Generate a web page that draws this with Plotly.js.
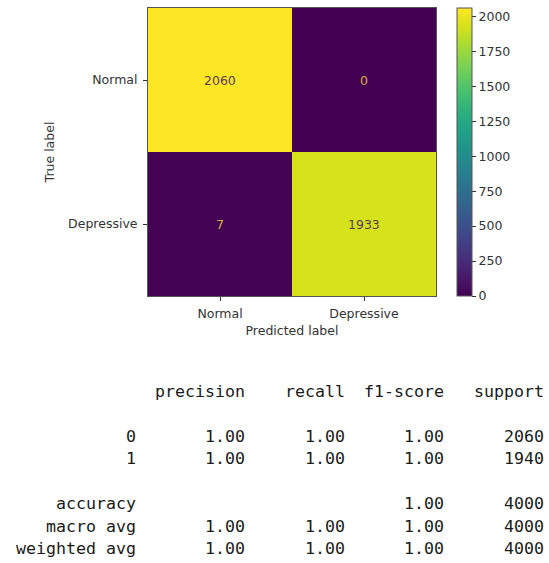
<!DOCTYPE html>
<html>
<head>
<meta charset="utf-8">
<script src="https://cdn.plot.ly/plotly-3.0.1.min.js"></script>
<style>html,body{margin:0;padding:0;background:#fff;}#chart{width:549px;height:563px;}</style>
</head>
<body>
<div id="chart"></div>
<script>
// Confusion matrix data
const classNames = ["Normal", "Depressive"];
const matrix = [
  [2060, 0],
  [7, 1933]
];
const cbTicks = [0, 250, 500, 750, 1000, 1250, 1500, 1750, 2000];

// Classification report data
const reportHeader = ["precision", "recall", "f1-score", "support"];
const reportRows = ["0", "1", "", "accuracy", "macro avg", "weighted avg"];
const precision = ["1.00", "1.00", "", "", "1.00", "1.00"];
const recall    = ["1.00", "1.00", "", "", "1.00", "1.00"];
const f1score   = ["1.00", "1.00", "", "1.00", "1.00", "1.00"];
const support   = ["2060", "1940", "", "4000", "4000", "4000"];

const W = 549, H = 563;
const L = 147.5, R = 436, T = 7.5, B = 296.5;
const pw = R - L, ph = B - T;
const zmax = Math.max(...matrix.flat());
const labFont = {family: 'DejaVu Sans', size: 12.5, color: '#333'};

const annotations = [];
// cell annotations
matrix.forEach((row, i) => row.forEach((v, j) => {
  annotations.push({
    x: classNames[j], y: classNames[i], xref: 'x', yref: 'y',
    text: String(v), showarrow: false,
    font: {family: 'DejaVu Sans', size: 12.5, color: v > zmax / 2 ? '#5a3a5a' : '#d8b040'}
  });
}));

// report text
const mono = {family: 'DejaVu Sans Mono, Liberation Mono, monospace', size: 16.6, color: '#1a1a1a'};
const colRight = [137, 247, 347, 446.5, 546.5];
const px2x = px => (px - L) / pw;
const px2y = py => (B - py) / ph;
const headerY = 392.5;
const rowYs = [437.5, 460, 0, 505, 527.5, 549.5];
reportHeader.forEach((h, k) => {
  annotations.push({xref: 'paper', yref: 'paper', x: px2x(colRight[k + 1]), y: px2y(headerY),
    xanchor: 'right', yanchor: 'middle', text: h, showarrow: false, font: mono});
});
reportRows.forEach((lab, r) => {
  if (lab === "") return;
  const cells = [lab, precision[r], recall[r], f1score[r], support[r]];
  cells.forEach((c, k) => {
    if (c === "") return;
    annotations.push({xref: 'paper', yref: 'paper', x: px2x(colRight[k]), y: px2y(rowYs[r]),
      xanchor: 'right', yanchor: 'middle', text: c, showarrow: false, font: mono});
  });
});

const trace = {
  type: 'heatmap',
  x: classNames, y: classNames, z: matrix,
  colorscale: 'Viridis', zmin: 0, zmax: zmax,
  xgap: 0, ygap: 0,
  hoverinfo: 'skip',
  colorbar: {
    x: (456.7 - L) / pw, xanchor: 'left', xref: 'paper',
    y: 0.5, yanchor: 'middle', len: 1, lenmode: 'fraction',
    thickness: 15, thicknessmode: 'pixels',
    outlinewidth: 1, outlinecolor: '#555',
    tickmode: 'array', tickvals: cbTicks,
    ticks: 'outside', ticklen: 4, tickcolor: '#333',
    tickfont: labFont,
    xpad: 0, ypad: 0
  }
};

const layout = {
  width: W, height: H,
  margin: {l: L, r: W - R, t: T, b: H - B, pad: 0},
  paper_bgcolor: '#fff', plot_bgcolor: '#fff',
  font: labFont,
  xaxis: {
    type: 'category', categoryorder: 'array', categoryarray: classNames,
    ticks: 'outside', ticklen: 4, tickcolor: '#333',
    showline: true, mirror: true, linecolor: '#555', linewidth: 1,
    showgrid: false, zeroline: false, automargin: false,
    tickfont: labFont, ticklabelstandoff: 2,
    title: {text: 'Predicted label', font: labFont, standoff: 6}
  },
  yaxis: {
    type: 'category', categoryorder: 'array', categoryarray: classNames,
    autorange: 'reversed',
    ticks: 'outside', ticklen: 4, tickcolor: '#333',
    showline: true, mirror: true, linecolor: '#555', linewidth: 1,
    showgrid: false, zeroline: false, automargin: false,
    tickfont: labFont, ticklabelstandoff: 3,
    title: {text: 'True label', font: labFont, standoff: 10}
  },
  annotations: annotations,
  showlegend: false
};

Plotly.newPlot('chart', [trace], layout, {displayModeBar: false, staticPlot: true});
</script>
</body>
</html>
